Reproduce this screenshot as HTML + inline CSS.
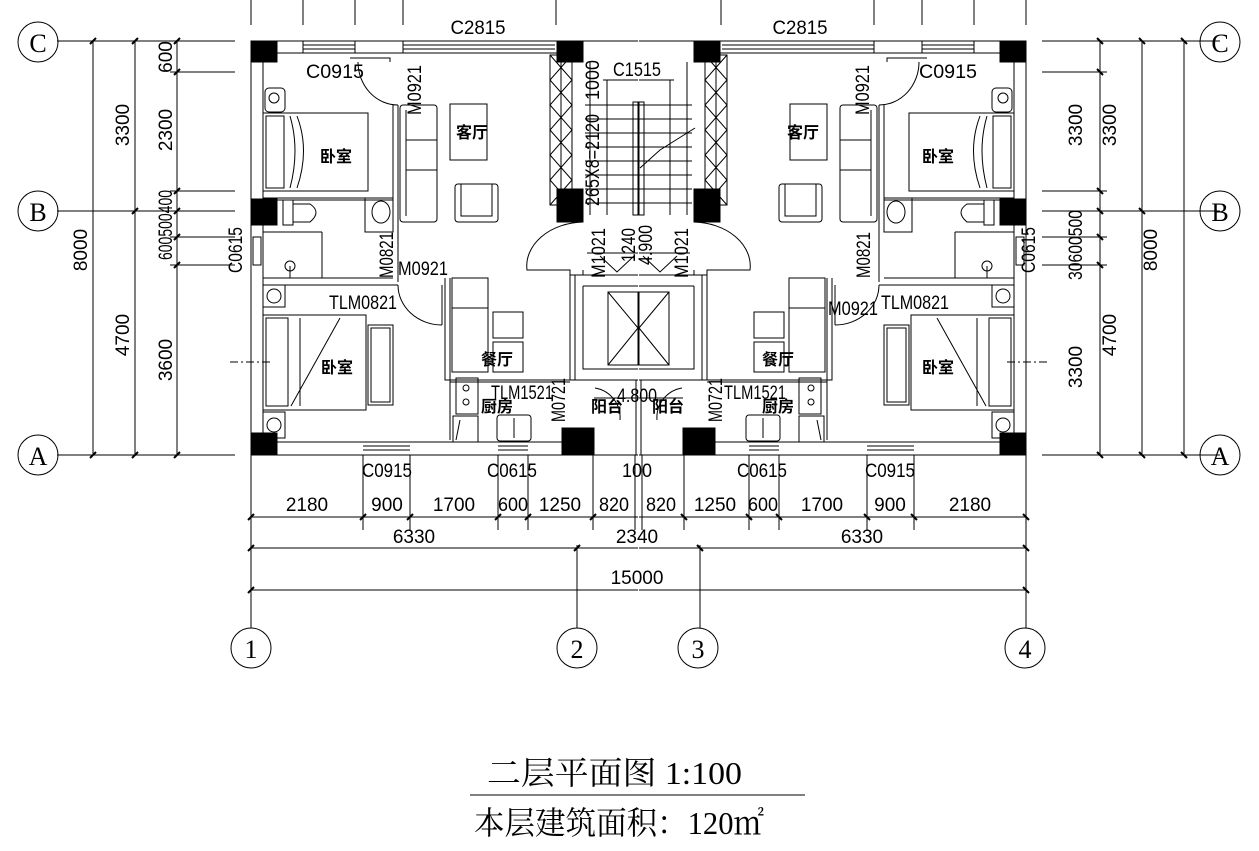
<!DOCTYPE html>
<html><head><meta charset="utf-8"><style>
html,body{margin:0;padding:0;background:#fff;width:1259px;height:851px;overflow:hidden}
svg{display:block}
text{font-family:"Liberation Sans","Noto Sans CJK SC",sans-serif;fill:#000}
.d{font-size:19px}
.c{font-size:16px;font-weight:bold;font-family:"Liberation Sans","Noto Sans CJK SC",sans-serif}
</style></head><body>
<svg width="1259" height="851" viewBox="0 0 1259 851" xmlns="http://www.w3.org/2000/svg">
<defs>
<g id="half" fill="none" stroke="#000" stroke-width="1">
  <line x1="251" y1="41" x2="638" y2="41"/><line x1="263" y1="53" x2="557" y2="53"/>
  <line x1="251" y1="41" x2="251" y2="455"/><line x1="263" y1="53" x2="263" y2="442"/>
  <line x1="251" y1="455" x2="638" y2="455"/><line x1="263" y1="442" x2="562" y2="442"/>
  <line x1="303" y1="45" x2="355" y2="45"/><line x1="303" y1="49" x2="355" y2="49"/>
  <line x1="303" y1="41" x2="303" y2="53"/><line x1="355" y1="41" x2="355" y2="53"/>
  <line x1="403" y1="45" x2="555" y2="45"/><line x1="403" y1="49" x2="555" y2="49"/>
  <line x1="403" y1="41" x2="403" y2="53"/>
  <line x1="251" y1="0" x2="251" y2="25"/><line x1="303" y1="0" x2="303" y2="25"/>
  <line x1="355" y1="0" x2="355" y2="25"/><line x1="403" y1="0" x2="403" y2="25"/>
  <line x1="556" y1="0" x2="556" y2="25"/>
  <line x1="363" y1="446" x2="410" y2="446"/><line x1="363" y1="450" x2="410" y2="450"/>
  <line x1="498" y1="446" x2="528" y2="446"/><line x1="498" y1="450" x2="528" y2="450"/>
  <rect x="253" y="237" width="8" height="28"/>
  <g fill="#000"><rect x="251" y="41" width="26" height="21"/><rect x="251" y="199" width="26" height="26"/>
  <rect x="251" y="433" width="26" height="22"/><rect x="557" y="41" width="26" height="21"/>
  <rect x="557" y="189" width="26" height="33"/><rect x="562" y="428" width="32" height="27"/></g>
  <path d="M393 105 V198 H263 M398 105 V280 M263 198 V200 H393"/>
  <path d="M263 278 H393 M263 285 H398 M398 197 V282"/>
  <path d="M322 232 V278 M263 232 H322 M283 200 V225"/>
  <path d="M445 278 V380 H570 M450 278 V440 M450 382 H570"/>
  <path d="M570 275 V380 M575 275 V380"/>
  <path d="M350 58 H390 V62"/>
  <path d="M358 62 A40 43 0 0 0 398 105"/>
  <path d="M398 285 A44 40 0 0 0 442 325 M442 325 V285"/>
  <path d="M595 388 A30 30 0 0 1 620 420"/>
  <rect x="263" y="113" width="105" height="78"/><rect x="266" y="116" width="18" height="72"/>
  <path d="M290 116 Q300 150 290 188 M297 116 Q310 150 297 188"/>
  <rect x="265" y="88" width="20" height="24" rx="4"/><circle cx="274" cy="98" r="5"/>
  <rect x="283" y="200" width="10" height="25"/><path d="M293 204 H310 Q322 212 310 222 H293"/>
  <rect x="365" y="198" width="28" height="34"/><ellipse cx="381" cy="212" rx="9" ry="11"/>
  <circle cx="290" cy="266" r="5"/><line x1="290" y1="266" x2="290" y2="278"/>
  <rect x="263" y="315" width="103" height="95"/><rect x="266" y="318" width="22" height="88"/>
  <path d="M300 318 V406 M340 318 L291 406"/>
  <rect x="263" y="285" width="22" height="22"/><circle cx="274" cy="296" r="7"/>
  <rect x="263" y="412" width="22" height="26"/><circle cx="274" cy="425" r="7"/>
  <rect x="368" y="325" width="25" height="80"/><rect x="371" y="328" width="19" height="74"/>
  <rect x="400" y="105" width="37" height="117" rx="3"/><path d="M406 110 V216 M406 140 H437 M406 170 H437"/>
  <rect x="450" y="104" width="37" height="56"/>
  <rect x="455" y="184" width="43" height="38" rx="3"/><rect x="461" y="184" width="31" height="32"/>
  <rect x="452" y="278" width="36" height="94"/><line x1="452" y1="308" x2="488" y2="308"/>
  <rect x="493" y="312" width="30" height="26"/><rect x="493" y="342" width="30" height="30"/>
  <rect x="456" y="378" width="22" height="36"/><circle cx="466" cy="388" r="3"/><circle cx="466" cy="402" r="3"/>
  <rect x="453" y="416" width="25" height="26"/><path d="M456 440 L460 420"/>
  <rect x="497" y="415" width="34" height="26" rx="3"/><line x1="514" y1="418" x2="514" y2="438"/>
  <rect x="550" y="55" width="22" height="150"/>
  <path d="M550 55 L572 80 L550 105 L572 130 L550 155 L572 180 L550 205 M572 55 L550 80 L572 105 L550 130 L572 155 L550 180 L572 205"/>
  <line x1="561" y1="55" x2="561" y2="205"/>
  <path d="M585 105 H638 M585 119 H638 M585 133 H638 M585 147 H638 M585 161 H638 M585 175 H638 M585 189 H638 M585 203 H638"/>
  <path d="M603 80 H638 M607 80 V215"/>
  <path d="M633 102 H638 V215 H633 Z"/>
  <path d="M590 62 V215"/>
  <path d="M583 222 A58 44 0 0 0 527 270 H570 V275 H583 V270"/>
  <path d="M587 253 H638 M600 256 L617 272 L634 256"/>
  <path d="M572 275 H638 M583 286 H638 M583 286 V369 H638 M570 370 V380 H638"/>
  <rect x="608" y="292" width="30" height="73"/>
  <path d="M608 292 L638 328 M608 365 L638 328"/>
  <path d="M594 398 H638 M636 380 V455"/>
  <line x1="57" y1="41" x2="235" y2="41"/><line x1="57" y1="211" x2="235" y2="211"/><line x1="57" y1="455" x2="235" y2="455"/>
  <line x1="93" y1="41" x2="93" y2="455"/><line x1="135" y1="41" x2="135" y2="455"/><line x1="177" y1="41" x2="177" y2="455"/>
  <line x1="170" y1="72" x2="235" y2="72"/><line x1="170" y1="191" x2="235" y2="191"/>
  <line x1="170" y1="237" x2="235" y2="237"/><line x1="170" y1="265" x2="235" y2="265"/>
  <path d="M230 362 H270" stroke-dasharray="8 3 2 3"/>
  <line x1="251" y1="455" x2="251" y2="628"/><line x1="577" y1="545" x2="577" y2="628"/>
  <line x1="251" y1="517" x2="638" y2="517"/><line x1="251" y1="548" x2="638" y2="548"/><line x1="251" y1="590" x2="638" y2="590"/>
  <line x1="363" y1="455" x2="363" y2="530"/><line x1="410" y1="455" x2="410" y2="530"/>
  <line x1="498" y1="455" x2="498" y2="530"/><line x1="528" y1="455" x2="528" y2="530"/>
  <line x1="593" y1="455" x2="593" y2="530"/><line x1="635" y1="455" x2="635" y2="530"/>
  <g stroke-width="2"><path d="M248 520 L254 514 M360 520 L366 514 M407 520 L413 514 M495 520 L501 514 M525 520 L531 514 M590 520 L596 514 M248 551 L254 545 M574 551 L580 545 M248 593 L254 587 M90 44 L96 38 M132 44 L138 38 M174 44 L180 38 M90 458 L96 452 M132 458 L138 452 M174 458 L180 452 M132 214 L138 208 M174 214 L180 208 M174 75 L180 69 M174 194 L180 188 M174 240 L180 234 M174 268 L180 262"/></g>
</g>
</defs>
<use href="#half"/>
<use href="#half" transform="translate(1277,0) scale(-1,1)"/>
<g fill="none" stroke="#000">
<path d="M640 168 L660 150 L695 128"/>
<circle cx="38" cy="42" r="20"/><circle cx="38" cy="211" r="20"/><circle cx="38" cy="455" r="20"/>
<circle cx="1220" cy="42" r="20"/><circle cx="1220" cy="211" r="20"/><circle cx="1220" cy="455" r="20"/>
<circle cx="251" cy="648" r="20"/><circle cx="577" cy="648" r="20"/><circle cx="698" cy="648" r="20"/><circle cx="1025" cy="648" r="20"/>
<line x1="470" y1="795" x2="805" y2="795"/>
</g>
<g font-size="26" text-anchor="middle" style="font-family:'Liberation Serif',serif">
<text x="38" y="52" style="font-family:'Liberation Serif',serif">C</text><text x="38" y="221" style="font-family:'Liberation Serif',serif">B</text><text x="38" y="465" style="font-family:'Liberation Serif',serif">A</text>
<text x="1220" y="52" style="font-family:'Liberation Serif',serif">C</text><text x="1220" y="221" style="font-family:'Liberation Serif',serif">B</text><text x="1220" y="465" style="font-family:'Liberation Serif',serif">A</text>
<text x="251" y="658" style="font-family:'Liberation Serif',serif">1</text><text x="577" y="658" style="font-family:'Liberation Serif',serif">2</text><text x="698" y="658" style="font-family:'Liberation Serif',serif">3</text><text x="1025" y="658" style="font-family:'Liberation Serif',serif">4</text>
</g>
<g class="d" text-anchor="middle">
<text x="478" y="34" lengthAdjust="spacingAndGlyphs" textLength="55">C2815</text><text x="800" y="34" lengthAdjust="spacingAndGlyphs" textLength="55">C2815</text>
<text x="335" y="78" lengthAdjust="spacingAndGlyphs" textLength="58">C0915</text><text x="948" y="78" lengthAdjust="spacingAndGlyphs" textLength="58">C0915</text>
<text x="637" y="76" lengthAdjust="spacingAndGlyphs" textLength="48">C1515</text>
<text x="423" y="275" lengthAdjust="spacingAndGlyphs" textLength="50">M0921</text><text x="853" y="315" lengthAdjust="spacingAndGlyphs" textLength="50">M0921</text>
<text x="363" y="309" lengthAdjust="spacingAndGlyphs" textLength="68">TLM0821</text><text x="915" y="309" lengthAdjust="spacingAndGlyphs" textLength="68">TLM0821</text>
<text x="522" y="399" lengthAdjust="spacingAndGlyphs" textLength="62">TLM1521</text><text x="755" y="399" lengthAdjust="spacingAndGlyphs" textLength="62">TLM1521</text>
<text x="637" y="402" lengthAdjust="spacingAndGlyphs" textLength="40">4.800</text>
<text x="387" y="477" lengthAdjust="spacingAndGlyphs" textLength="50">C0915</text><text x="512" y="477" lengthAdjust="spacingAndGlyphs" textLength="50">C0615</text>
<text x="637" y="477" lengthAdjust="spacingAndGlyphs" textLength="30">100</text><text x="762" y="477" lengthAdjust="spacingAndGlyphs" textLength="50">C0615</text><text x="890" y="477" lengthAdjust="spacingAndGlyphs" textLength="50">C0915</text>
<text x="307" y="511">2180</text><text x="387" y="511">900</text><text x="454" y="511">1700</text><text x="513" y="511" lengthAdjust="spacingAndGlyphs" textLength="30">600</text>
<text x="560" y="511">1250</text><text x="614" y="511" lengthAdjust="spacingAndGlyphs" textLength="30">820</text><text x="661" y="511" lengthAdjust="spacingAndGlyphs" textLength="30">820</text><text x="715" y="511">1250</text>
<text x="763" y="511" lengthAdjust="spacingAndGlyphs" textLength="30">600</text><text x="822" y="511">1700</text><text x="890" y="511">900</text><text x="970" y="511">2180</text>
<text x="414" y="543">6330</text><text x="637" y="543">2340</text><text x="862" y="543">6330</text>
<text x="637" y="584">15000</text>
</g>
<g class="d" text-anchor="middle">
<text transform="translate(87,250) rotate(-90)">8000</text>
<text transform="translate(129,125) rotate(-90)">3300</text><text transform="translate(129,335) rotate(-90)">4700</text>
<text transform="translate(172,57) rotate(-90)">600</text><text transform="translate(172,130) rotate(-90)">2300</text>
<text transform="translate(172,225) rotate(-90)" lengthAdjust="spacingAndGlyphs" textLength="70">600500400</text>
<text transform="translate(172,360) rotate(-90)">3600</text>
<text transform="translate(242,250) rotate(-90)" lengthAdjust="spacingAndGlyphs" textLength="46">C0615</text>
<text transform="translate(1157,250) rotate(-90)">8000</text>
<text transform="translate(1116,125) rotate(-90)">3300</text><text transform="translate(1116,335) rotate(-90)">4700</text>
<text transform="translate(1082,125) rotate(-90)">3300</text><text transform="translate(1082,367) rotate(-90)">3300</text>
<text transform="translate(1082,245) rotate(-90)" lengthAdjust="spacingAndGlyphs" textLength="70">30600500</text>
<text transform="translate(1035,250) rotate(-90)" lengthAdjust="spacingAndGlyphs" textLength="46">C0615</text>
<text transform="translate(421,90) rotate(-90)" lengthAdjust="spacingAndGlyphs" textLength="50">M0921</text>
<text transform="translate(869,90) rotate(-90)" lengthAdjust="spacingAndGlyphs" textLength="50">M0921</text>
<text transform="translate(393,255) rotate(-90)" lengthAdjust="spacingAndGlyphs" textLength="46">M0821</text>
<text transform="translate(870,255) rotate(-90)" lengthAdjust="spacingAndGlyphs" textLength="46">M0821</text>
<text transform="translate(599,80) rotate(-90)" lengthAdjust="spacingAndGlyphs" textLength="40">1000</text>
<text transform="translate(599,160) rotate(-90)" lengthAdjust="spacingAndGlyphs" textLength="92">265X8=2120</text>
<text transform="translate(605,253) rotate(-90)" lengthAdjust="spacingAndGlyphs" textLength="50">M1021</text>
<text transform="translate(635,245) rotate(-90)" lengthAdjust="spacingAndGlyphs" textLength="34">1240</text>
<text transform="translate(652,245) rotate(-90)" lengthAdjust="spacingAndGlyphs" textLength="40">4.900</text>
<text transform="translate(688,253) rotate(-90)" lengthAdjust="spacingAndGlyphs" textLength="50">M1021</text>
<text transform="translate(565,400) rotate(-90)" lengthAdjust="spacingAndGlyphs" textLength="44">M0721</text>
<text transform="translate(722,400) rotate(-90)" lengthAdjust="spacingAndGlyphs" textLength="44">M0721</text>
</g>
<g class="c" text-anchor="middle">
<text x="472" y="138" class="c">客厅</text><text x="803" y="138" class="c">客厅</text>
<text x="336" y="162" class="c">卧室</text><text x="938" y="162" class="c">卧室</text>
<text x="337" y="373" class="c">卧室</text><text x="938" y="373" class="c">卧室</text>
<text x="497" y="365" class="c">餐厅</text><text x="778" y="365" class="c">餐厅</text>
<text x="497" y="412" class="c">厨房</text><text x="778" y="412" class="c">厨房</text>
<text x="607" y="412" class="c">阳台</text><text x="668" y="412" class="c">阳台</text>
</g>
<text x="487" y="784" style="font-family:'Liberation Serif','Noto Serif CJK SC',serif;font-size:32px" lengthAdjust="spacingAndGlyphs" textLength="255">二层平面图  1:100</text>
<text x="474" y="834" style="font-family:'Liberation Serif','Noto Serif CJK SC',serif;font-size:32px" lengthAdjust="spacingAndGlyphs" textLength="290">本层建筑面积：120㎡</text>
</svg>
</body></html>
